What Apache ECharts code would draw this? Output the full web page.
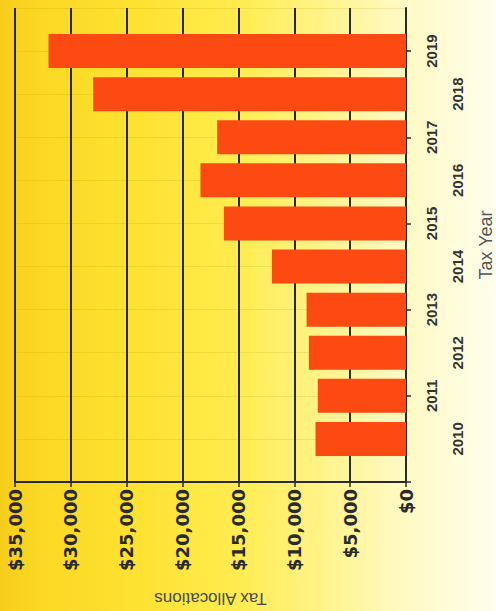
<!DOCTYPE html>
<html>
<head>
<meta charset="utf-8" />
<title>Tax Allocations</title>
<style type="text/css">
html, body { margin: 0; padding: 0; }
#main {
  width: 496px;
  height: 611px;
  background: linear-gradient(to right, #f7cd1b 0%, #fbd823 8%, #fee232 28%, #ffec50 48%, #fff386 64%, #fff9c0 80%, #fffeee 100%);
}
</style>
</head>
<body>
<div id="main"></div>
<script src="https://cdn.jsdelivr.net/npm/echarts@6/dist/echarts.min.js"></script>
<script type="text/javascript">
// data
var years = ['2010', '2011', '2012', '2013', '2014', '2015', '2016', '2017', '2018', '2019'];
var allocations = [8100, 7900, 8700, 8900, 12000, 16300, 18400, 16900, 28000, 32000];
var valueMax = 35000;
var valueStep = 5000;

// blank slot at each end so the years sit one step in from the axis ends
var yearSlots = [''].concat(years, ['']);
var barSlots = ['-'].concat(allocations, ['-']);

function money(v) {
  return '$' + String(v).replace(/\B(?=(\d{3})+(?!\d))/g, ',');
}
function isOddYear(idx, val) { return val !== '' && (+val) % 2 === 1; }
function isEvenYear(idx, val) { return val !== '' && (+val) % 2 === 0; }

var chart = echarts.init(document.getElementById('main'), null, { renderer: 'svg' });

var yearLabel = {
  rotate: 90,
  color: '#333',
  fontFamily: 'Liberation Sans',
  fontWeight: 'bold',
  fontSize: 15
};

var option = {
  backgroundColor: 'transparent',
  animation: false,
  grid: { left: 15, right: 90, top: 8, bottom: 129, containLabel: false, outerBoundsMode: 'none' },
  xAxis: {
    type: 'value',
    inverse: true,
    min: 0,
    max: valueMax,
    interval: valueStep,
    position: 'bottom',
    name: 'Tax Allocations',
    nameLocation: 'middle',
    nameRotate: 180,
    nameGap: 108,
    nameTextStyle: { color: '#4a4a4a', fontFamily: 'Liberation Sans', fontSize: 17 },
    axisLine: { show: true, lineStyle: { color: '#2a2a2a', width: 2 } },
    axisTick: { show: true, length: 5, lineStyle: { color: '#2a2a2a', width: 1.5 } },
    axisLabel: {
      rotate: 90,
      margin: 7,
      color: '#2a2a2a',
      fontFamily: 'DejaVu Sans',
      fontWeight: 'bold',
      fontSize: 18,
      formatter: money
    },
    splitLine: { show: true, lineStyle: { color: '#2a2a2a', width: 2 } }
  },
  yAxis: [
    {
      type: 'category',
      data: yearSlots,
      boundaryGap: false,
      position: 'right',
      name: 'Tax Year',
      nameLocation: 'middle',
      nameRotate: 90,
      nameGap: 71,
      nameTextStyle: { color: '#555', fontFamily: 'Liberation Sans', fontSize: 18 },
      axisLine: { show: true, lineStyle: { color: '#2a2a2a', width: 2 } },
      axisTick: { show: true, interval: 1, length: 5, lineStyle: { color: '#2a2a2a', width: 1.5 } },
      axisLabel: Object.assign({}, yearLabel, { margin: 18, interval: isOddYear }),
      splitLine: { show: true, interval: 0, lineStyle: { color: 'rgba(190,150,0,0.18)', width: 1 } }
    },
    {
      type: 'category',
      data: yearSlots,
      boundaryGap: false,
      position: 'right',
      axisLine: { show: false },
      axisTick: { show: false },
      axisLabel: Object.assign({}, yearLabel, { margin: 44, interval: isEvenYear }),
      splitLine: { show: false }
    }
  ],
  series: [
    {
      name: 'Tax Allocations',
      type: 'bar',
      xAxisIndex: 0,
      yAxisIndex: 0,
      data: barSlots,
      barWidth: 34,
      itemStyle: { color: '#fc4a12' }
    }
  ]
};

chart.setOption(option);
</script>
</body>
</html>
